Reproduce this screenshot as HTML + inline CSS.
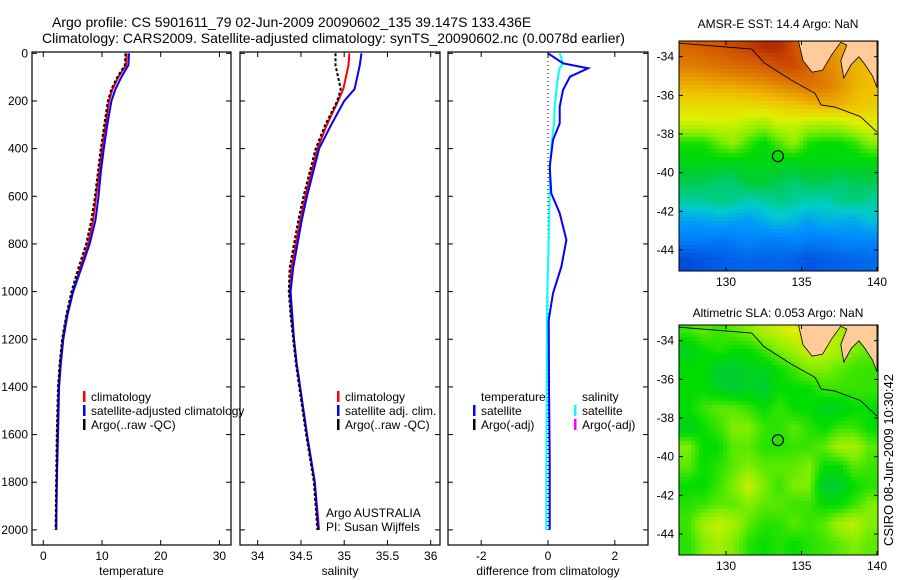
<!DOCTYPE html>
<html><head><meta charset="utf-8"><style>
body{margin:0;background:#fff;}
svg{display:block;font-family:"Liberation Sans",Arial,sans-serif;}
text{fill:#000;}
</style></head><body>
<svg id="fig" width="900" height="580" viewBox="0 0 900 580">
<rect x="0" y="0" width="900" height="580" fill="#fff"/>
<text x="52" y="27" font-size="14">Argo profile: CS 5901611_79 02-Jun-2009 20090602_135 39.147S 133.436E</text>
<text x="42" y="43" font-size="14">Climatology: CARS2009. Satellite-adjusted climatology: synTS_20090602.nc (0.0078d earlier)</text>
<text x="778" y="28" font-size="12" text-anchor="middle">AMSR-E SST: 14.4 Argo: NaN</text>
<text x="778" y="317" font-size="12" text-anchor="middle">Altimetric SLA: 0.053 Argo: NaN</text>
<text transform="translate(893,460) rotate(-90)" font-size="13" text-anchor="middle">CSIRO 08-Jun-2009 10:30:42</text>
<g id="plots"></g>
</svg>
<script>
// ---- profile data ----
const depth = [0,50,100,150,200,300,400,500,600,700,800,900,1000,1100,1200,1300,1400,1600,1800,2000];
const tempClim = [14.2,14.1,12.8,11.8,11.2,10.6,10.0,9.5,9.0,8.5,7.6,6.3,5.0,4.0,3.3,2.9,2.6,2.4,2.3,2.2];
const tempSat  = [14.6,14.5,13.3,12.3,11.6,10.9,10.3,9.8,9.4,8.9,7.9,6.5,5.1,4.1,3.4,3.0,2.7,2.5,2.3,2.2];
const tempArgo = [14.0,13.9,12.6,11.6,11.0,10.4,9.8,9.3,8.8,8.2,7.3,6.0,4.8,3.9,3.2,2.8,2.5,2.3,2.2,2.1];
const salClim = [35.06,35.05,35.02,34.99,34.93,34.80,34.69,34.62,34.55,34.49,34.44,34.39,34.37,34.39,34.42,34.45,34.49,34.57,34.66,34.71];
const salSat  = [35.20,35.18,35.15,35.12,35.00,34.85,34.71,34.64,34.57,34.51,34.46,34.41,34.38,34.40,34.42,34.45,34.49,34.57,34.66,34.70];
const salArgo = [34.90,34.90,34.93,34.96,34.92,34.78,34.67,34.60,34.53,34.47,34.42,34.37,34.36,34.38,34.41,34.44,34.48,34.56,34.65,34.69];
const diffDepth = [0,42,63,98,154,224,294,364,476,588,671,783,895,1007,1119,1400,1700,2000];
const diffTempSat = [0,0.45,1.2,0.66,0.45,0.35,0.35,0.15,0.05,0.1,0.35,0.55,0.4,0.15,0.02,0.03,0.05,0.05];
const diffSalSat  = [0.35,0.45,0.35,0.3,0.25,0.2,0.18,0.12,0.06,0.05,0.04,0.02,0.0,-0.02,-0.03,-0.04,-0.05,-0.05];
const depthTicks = [0,200,400,600,800,1000,1200,1400,1600,1800,2000];
const tempTicks = [0,10,20,30];
const salTicks = [34,34.5,35,35.5,36];
const diffTicks = [-2,0,2];
// ---- map data (colormap index 0..1), rows lat -33.5..-44.5, cols lon 127.5..139.5 ----
const mapLats = [-33.5,-34.5,-35.5,-36.5,-37.5,-38.5,-39.5,-40.5,-41.5,-42.5,-43.5,-44.5];
const mapLons = [127.5,128.5,129.5,130.5,131.5,132.5,133.5,134.5,135.5,136.5,137.5,138.5,139.5];
const sstGrid = [
[.90,.91,.92,.94,.95,.97,.97,.93,.88,.84,.82,.80,.80],
[.86,.87,.88,.89,.90,.91,.93,.94,.90,.86,.83,.80,.78],
[.80,.80,.81,.81,.82,.83,.85,.86,.88,.87,.84,.80,.78],
[.74,.74,.74,.74,.74,.75,.76,.77,.79,.80,.80,.78,.76],
[.68,.68,.69,.68,.66,.64,.68,.68,.66,.65,.66,.69,.71],
[.56,.56,.60,.63,.58,.54,.59,.63,.56,.55,.55,.57,.62],
[.53,.53,.53,.52,.53,.53,.53,.52,.53,.53,.53,.53,.53],
[.48,.48,.46,.46,.50,.50,.48,.46,.48,.48,.46,.48,.48],
[.43,.43,.45,.44,.41,.42,.45,.43,.42,.41,.44,.45,.43],
[.33,.33,.35,.33,.32,.35,.38,.36,.33,.36,.35,.34,.38],
[.26,.26,.24,.26,.28,.26,.26,.28,.26,.26,.28,.28,.28],
[.14,.16,.18,.19,.20,.19,.20,.19,.16,.18,.19,.20,.21]];
const slaGrid = [
[.58,.60,.58,.60,.62,.66,.68,.70,.68,.68,.65,.62,.60],
[.52,.55,.57,.55,.55,.58,.62,.65,.68,.68,.65,.62,.60],
[.55,.55,.50,.50,.52,.52,.55,.58,.62,.62,.60,.58,.58],
[.55,.55,.52,.50,.52,.50,.55,.55,.55,.58,.58,.58,.58],
[.55,.58,.60,.60,.58,.55,.58,.55,.55,.52,.52,.55,.55],
[.52,.55,.58,.62,.62,.58,.57,.60,.57,.55,.58,.58,.55],
[.62,.55,.55,.60,.60,.57,.57,.58,.58,.60,.65,.65,.60],
[.60,.55,.57,.60,.62,.60,.60,.60,.62,.55,.55,.60,.58],
[.55,.55,.58,.62,.68,.62,.58,.62,.62,.50,.50,.55,.57],
[.57,.58,.60,.60,.62,.60,.60,.58,.58,.55,.55,.58,.62],
[.58,.65,.68,.65,.60,.57,.57,.60,.58,.60,.65,.67,.62],
[.57,.62,.65,.62,.57,.55,.57,.55,.57,.58,.60,.62,.60]];
const floatLon = 133.436, floatLat = -39.147;
const mapLatTicks = [-34,-36,-38,-40,-42,-44];
const mapLonTicks = [130,135,140];
const coastLon = [126.9,131.7,132.5,133.3,134.3,135.9,136.3,137.2,138.9,140];
const coastLat = [-33.3,-33.6,-34.3,-34.7,-35.2,-35.9,-36.5,-36.6,-37.1,-37.9];
const landLon = [134.8,140,140,139.7,139.2,138.8,138.3,137.8,137.6,138.0,137.6,137.0,136.4,135.7,135.1];
const landLat = [-33.2,-33.2,-35.6,-35.0,-34.4,-34.0,-34.4,-35.1,-34.2,-33.4,-33.25,-33.9,-34.7,-34.8,-34.2];

const NS='http://www.w3.org/2000/svg';
const root=document.getElementById('plots');
function mk(tag,attrs,parent){const e=document.createElementNS(NS,tag);for(const k in attrs)e.setAttribute(k,attrs[k]);(parent||root).appendChild(e);return e;}
function txt(x,y,s,size,anchor,parent){const t=mk('text',{x:x,y:y,'font-size':size,'text-anchor':anchor||'start'},parent);t.textContent=s;return t;}

const yTop=52,yBot=545;
const yD=d=>53.3+d*0.2383;
const panels=[
 {name:'temperature',x0:32,x1:231,sx:v=>43.3+v*5.87,ticks:tempTicks,title:'temperature',
  series:[{v:tempClim,c:'#ff0000',d:depth,n:'climatology-temp-line'},{v:tempSat,c:'#0000ff',d:depth,n:'satellite-temp-line'},{v:tempArgo,c:'#000',d:depth,dash:'3,2',n:'argo-temp-line'}]},
 {name:'salinity',x0:240,x1:440,sx:v=>257.7+(v-34)*86.5,ticks:salTicks,title:'salinity',
  series:[{v:salClim,c:'#ff0000',d:depth,n:'climatology-sal-line'},{v:salSat,c:'#0000ff',d:depth,n:'satellite-sal-line'},{v:salArgo,c:'#000',d:depth,dash:'3,2',n:'argo-sal-line'}]},
 {name:'difference',x0:448,x1:648,sx:v=>548+v*33.4,ticks:diffTicks,title:'difference from climatology',
  series:[{v:diffSalSat,c:'#00ffff',d:diffDepth,n:'sal-satellite-diff-line'},{v:diffTempSat,c:'#0000ff',d:diffDepth,n:'temp-satellite-diff-line'}]}
];
panels.forEach((p,i)=>{
  const g=mk('g',{});
  
  
  mk('rect',{x:p.x0,y:yTop,width:p.x1-p.x0,height:yBot-yTop,fill:'none',stroke:'#000','stroke-width':1.2},g);
  p.ticks.forEach(t=>{const x=p.sx(t);mk('line',{x1:x,x2:x,y1:yBot,y2:yBot-5,stroke:'#000'},g);mk('line',{x1:x,x2:x,y1:yTop,y2:yTop+5,stroke:'#000'},g);
    const l=txt(x,560,String(t),12,'middle',g);});
  depthTicks.forEach(d=>{const y=yD(d);mk('line',{x1:p.x0,x2:p.x0+5,y1:y,y2:y,stroke:'#000'},g);mk('line',{x1:p.x1,x2:p.x1-5,y1:y,y2:y,stroke:'#000'},g);
    if(i===0){const l=txt(28,y+4,String(d),12,'end',g);}});
  const at=txt((p.x0+p.x1)/2,575,p.title,12,'middle',g);
  
  
  if(i===2){mk('line',{x1:p.sx(0),x2:p.sx(0),y1:yTop+5,y2:yD(2000),stroke:'#000','stroke-dasharray':'1,3'},g);}
  p.series.forEach(s=>{
    const pts=s.v.map((v,k)=>p.sx(v).toFixed(1)+','+yD(s.d[k]).toFixed(1)).join(' ');
    const pl=mk('polyline',{points:pts,fill:'none',stroke:s.c,'stroke-width':2,'stroke-dasharray':s.dash||'none'},g);
    
    
  });
});
// legends
function legItem(x,y,color,label){
  const g=mk('g',{});
  
  
  mk('rect',{x:x,y:y-10,width:2.5,height:11,fill:color},g);
  txt(x+8,y,label,12,'start',g);
}
legItem(83,401,'#ff0000','climatology');legItem(83,415,'#0000ff','satellite-adjusted climatology');legItem(83,429,'#000','Argo(..raw -QC)');
legItem(337,401,'#ff0000','climatology');legItem(337,415,'#0000ff','satellite adj. clim.');legItem(337,429,'#000','Argo(..raw -QC)');
{const t=txt(481,401,'temperature',12);
 const s=txt(582,401,'salinity',12);}
legItem(473,415,'#0000ff','satellite');legItem(473,429,'#000','Argo(-adj)');
legItem(574,415,'#00ffff','satellite');legItem(574,429,'#ff00ff','Argo(-adj)');
{const a=txt(326,517,'Argo AUSTRALIA',12);
 const b=txt(326,531,'PI: Susan Wijffels',12);}

// ---- maps ----
const stops=[[0,[0,0,144]],[.15,[0,80,224]],[.3,[0,144,255]],[.4,[0,204,204]],[.5,[0,204,51]],[.55,[0,221,0]],[.62,[128,238,0]],[.7,[224,240,0]],[.78,[240,192,0]],[.86,[224,128,0]],[.93,[208,80,0]],[1,[160,16,0]]];
function cmap(v){v=Math.max(0,Math.min(1,v));for(let i=1;i<stops.length;i++){if(v<=stops[i][0]){const a=stops[i-1],b=stops[i],f=(v-a[0])/(b[0]-a[0]);return 'rgb('+a[1].map((c,k)=>Math.round(c+(b[1][k]-c)*f)).join(',')+')';}}return 'rgb(160,16,0)';}
function bil(grid,lon,lat){
  let fx=(lon-mapLons[0]),fy=(mapLats[0]-lat);fx=Math.max(0,Math.min(12,fx));fy=Math.max(0,Math.min(11,fy));
  const x0=Math.min(11,Math.floor(fx)),y0=Math.min(10,Math.floor(fy)),dx=fx-x0,dy=fy-y0;
  return grid[y0][x0]*(1-dx)*(1-dy)+grid[y0][x0+1]*dx*(1-dy)+grid[y0+1][x0]*(1-dx)*dy+grid[y0+1][x0+1]*dx*dy;
}
function drawMap(grid,top,name){
  const L=679,R=878,T=top,B=top+230;
  const lonX=lon=>726+(lon-130)*15.1;
  const latY=lat=>T+15.7+(-34-lat)*19.33;
  const g=mk('g',{});
  
  
  const cs=4;
  for(let y=T;y<B;y+=cs){for(let x=L;x<R;x+=cs){
    const lon=130+(x+cs/2-726)/15.1,lat=-34-(y+cs/2-T-15.7)/19.33;
    mk('rect',{x:x,y:y,width:Math.min(cs,R-x)+0.3,height:Math.min(cs,B-y)+0.3,fill:cmap(bil(grid,lon,lat))},g);}}
  const lp=landLon.map((lo,k)=>Math.min(R,lonX(lo)).toFixed(1)+','+Math.max(T,latY(landLat[k])).toFixed(1)).join(' ');
  const land=mk('polygon',{points:lp,fill:'#ffcc99',stroke:'#000','stroke-width':0.8},g);
  
  
  const cp=coastLon.map((lo,k)=>Math.max(L,Math.min(R,lonX(lo))).toFixed(1)+','+latY(coastLat[k]).toFixed(1)).join(' ');
  const coast=mk('polyline',{points:cp,fill:'none',stroke:'#000','stroke-width':0.9},g);
  
  
  const c=mk('circle',{cx:lonX(floatLon),cy:latY(floatLat),r:5.5,fill:'none',stroke:'#000','stroke-width':1.2},g);
  
  
  mk('rect',{x:L,y:T,width:R-L,height:B-T,fill:'none',stroke:'#000','stroke-width':1},g);
  mapLatTicks.forEach(la=>{const y=latY(la);mk('line',{x1:L,x2:L+4,y1:y,y2:y,stroke:'#000'},g);mk('line',{x1:R,x2:R-4,y1:y,y2:y,stroke:'#000'},g);
    const l=txt(674,y+4,String(la),12,'end',g);});
  mapLonTicks.forEach(lo=>{const x=lonX(lo);mk('line',{x1:x,x2:x,y1:B,y2:B-4,stroke:'#000'},g);mk('line',{x1:x,x2:x,y1:T,y2:T+4,stroke:'#000'},g);
    const l=txt(x,B+15,String(lo),12,'middle',g);});
}
drawMap(sstGrid,41,'sst-map');
drawMap(slaGrid,325,'sla-map');
</script>
</body></html>
